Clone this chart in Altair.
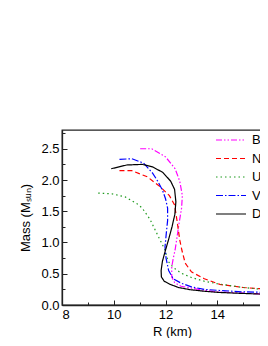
import altair as alt
import pandas as pd

EOS_NAMES = ["BOB", "N93", "UIX", "V18", "DBHF"]
COLORS = ["#ff00ff", "#ff0000", "#1f9a1f", "#0000ff", "#000000"]
DASHES = [[6, 2, 1.5, 2, 1.5, 2], [5, 3], [1.5, 3], [7, 2, 1.5, 2], [1, 0]]

BOB_R = [11.02, 11.47, 12.0, 12.37, 12.55, 12.65, 12.62, 12.52, 12.45, 12.37, 12.3, 12.24, 12.24, 12.35, 12.6, 13.0, 13.4, 14.0, 15.0, 16.0, 16.5]
BOB_M = [2.50, 2.50, 2.37, 2.18, 1.98, 1.75, 1.55, 1.30, 1.10, 0.88, 0.75, 0.61, 0.45, 0.36, 0.30, 0.27, 0.24, 0.21, 0.19, 0.17, 0.165]

N93_R = [10.22, 10.7, 11.3, 11.8, 12.15, 12.35, 12.44, 12.55, 12.63, 12.76, 13.0, 13.5, 14.1, 15.0, 16.0, 16.5]
N93_M = [2.15, 2.15, 2.05, 1.89, 1.75, 1.60, 1.36, 1.04, 0.88, 0.67, 0.53, 0.42, 0.33, 0.28, 0.25, 0.24]

UIX_R = [9.40, 9.92, 10.44, 10.9, 11.1, 11.4, 11.73, 11.98, 12.1, 12.3, 12.6, 13.0, 13.5, 14.0, 15.0, 16.0, 16.5]
UIX_M = [1.79, 1.78, 1.73, 1.62, 1.55, 1.37, 1.09, 0.88, 0.70, 0.60, 0.51, 0.44, 0.38, 0.34, 0.28, 0.24, 0.23]

V18_R = [10.22, 10.7, 11.15, 11.5, 11.7, 11.88, 12.0, 12.08, 12.08, 12.03, 11.98, 12.02, 12.12, 12.3, 12.6, 13.0, 13.5, 14.0, 15.0, 16.0, 16.5]
V18_M = [2.33, 2.34, 2.27, 2.11, 1.98, 1.84, 1.70, 1.55, 1.35, 1.15, 0.93, 0.75, 0.55, 0.42, 0.35, 0.29, 0.25, 0.235, 0.21, 0.20, 0.195]

DBHF_R = [9.9, 10.5, 11.1, 11.5, 11.9, 12.2, 12.35, 12.40, 12.36, 12.25, 12.12, 12.0, 11.88, 11.83, 11.84, 11.95, 12.18, 12.5, 12.95, 13.5, 14.1, 15.0, 16.0, 16.5]
DBHF_M = [2.18, 2.24, 2.25, 2.21, 2.12, 1.98, 1.85, 1.65, 1.45, 1.25, 1.05, 0.88, 0.70, 0.55, 0.45, 0.38, 0.33, 0.28, 0.245, 0.22, 0.20, 0.185, 0.17, 0.16]

X_TICKS = [8, 9, 10, 11, 12, 13, 14, 15, 16]
Y_TICKS = [0, 0.25, 0.5, 0.75, 1.0, 1.25, 1.5, 1.75, 2.0, 2.25, 2.5, 2.75]

series = {
    "BOB": (BOB_R, BOB_M),
    "N93": (N93_R, N93_M),
    "UIX": (UIX_R, UIX_M),
    "V18": (V18_R, V18_M),
    "DBHF": (DBHF_R, DBHF_M),
}
rows = []
for name, (rs, ms) in series.items():
    for i, (r, m) in enumerate(zip(rs, ms)):
        rows.append({"eos": name, "R": r, "M": m, "idx": i})
df = pd.DataFrame(rows)

FONT = "Liberation Sans"

legend_kw = dict(
    title=None,
    orient="none",
    legendX=153,
    legendY=2,
    symbolType="stroke",
    symbolSize=900,
    symbolStrokeWidth=1.2,
    labelFontSize=13,
    labelFont=FONT,
    labelColor="black",
    clipHeight=16,
    rowPadding=2.5,
    labelOffset=5,
    padding=0,
)

chart = alt.Chart(df).mark_line(strokeWidth=1.2, clip=True).encode(
    x=alt.X(
        "R:Q",
        scale=alt.Scale(domain=[8, 16.5], nice=False, zero=False),
        axis=alt.Axis(
            title="R (km)",
            values=X_TICKS,
            labelExpr="datum.value % 2 === 0 ? datum.label : ''",
            tickSize={"condition": {"test": "datum.value % 2 === 0", "expr": "-5"}, "expr": "-3"},
            labelPadding=8,
            titlePadding=4,
        ),
    ),
    y=alt.Y(
        "M:Q",
        scale=alt.Scale(domain=[0, 2.8], nice=False),
        axis=alt.Axis(
            title="Mass (Mₛᵤₙ)",
            values=Y_TICKS,
            format=".1f",
            labelExpr="datum.value % 0.5 === 0 ? datum.label : ''",
            tickSize={"condition": {"test": "datum.value % 0.5 === 0", "expr": "-5"}, "expr": "-3"},
            labelPadding=8,
            titlePadding=8,
        ),
    ),
    color=alt.Color(
        "eos:N",
        scale=alt.Scale(domain=EOS_NAMES, range=COLORS),
        legend=alt.Legend(**legend_kw),
    ),
    strokeDash=alt.StrokeDash(
        "eos:N",
        scale=alt.Scale(domain=EOS_NAMES, range=DASHES),
        legend=alt.Legend(**legend_kw),
    ),
    order="idx:Q",
).properties(
    width=220,
    height=175,
    autosize=alt.AutoSizeParams(type="none"),
    padding={"left": 54, "top": 122, "right": -22, "bottom": 33},
).configure_view(
    stroke="#222", strokeWidth=1.3
).configure_axis(
    domainColor="#222",
    domainWidth=1.3,
    tickColor="#222",
    tickWidth=1,
    labelFont=FONT,
    labelFontSize=13,
    labelColor="black",
    titleFont=FONT,
    titleFontSize=13,
    titleFontWeight="normal",
    titleColor="black",
    grid=False,
)

chart.save("out.html", embed_options={"renderer": "svg", "actions": False})
